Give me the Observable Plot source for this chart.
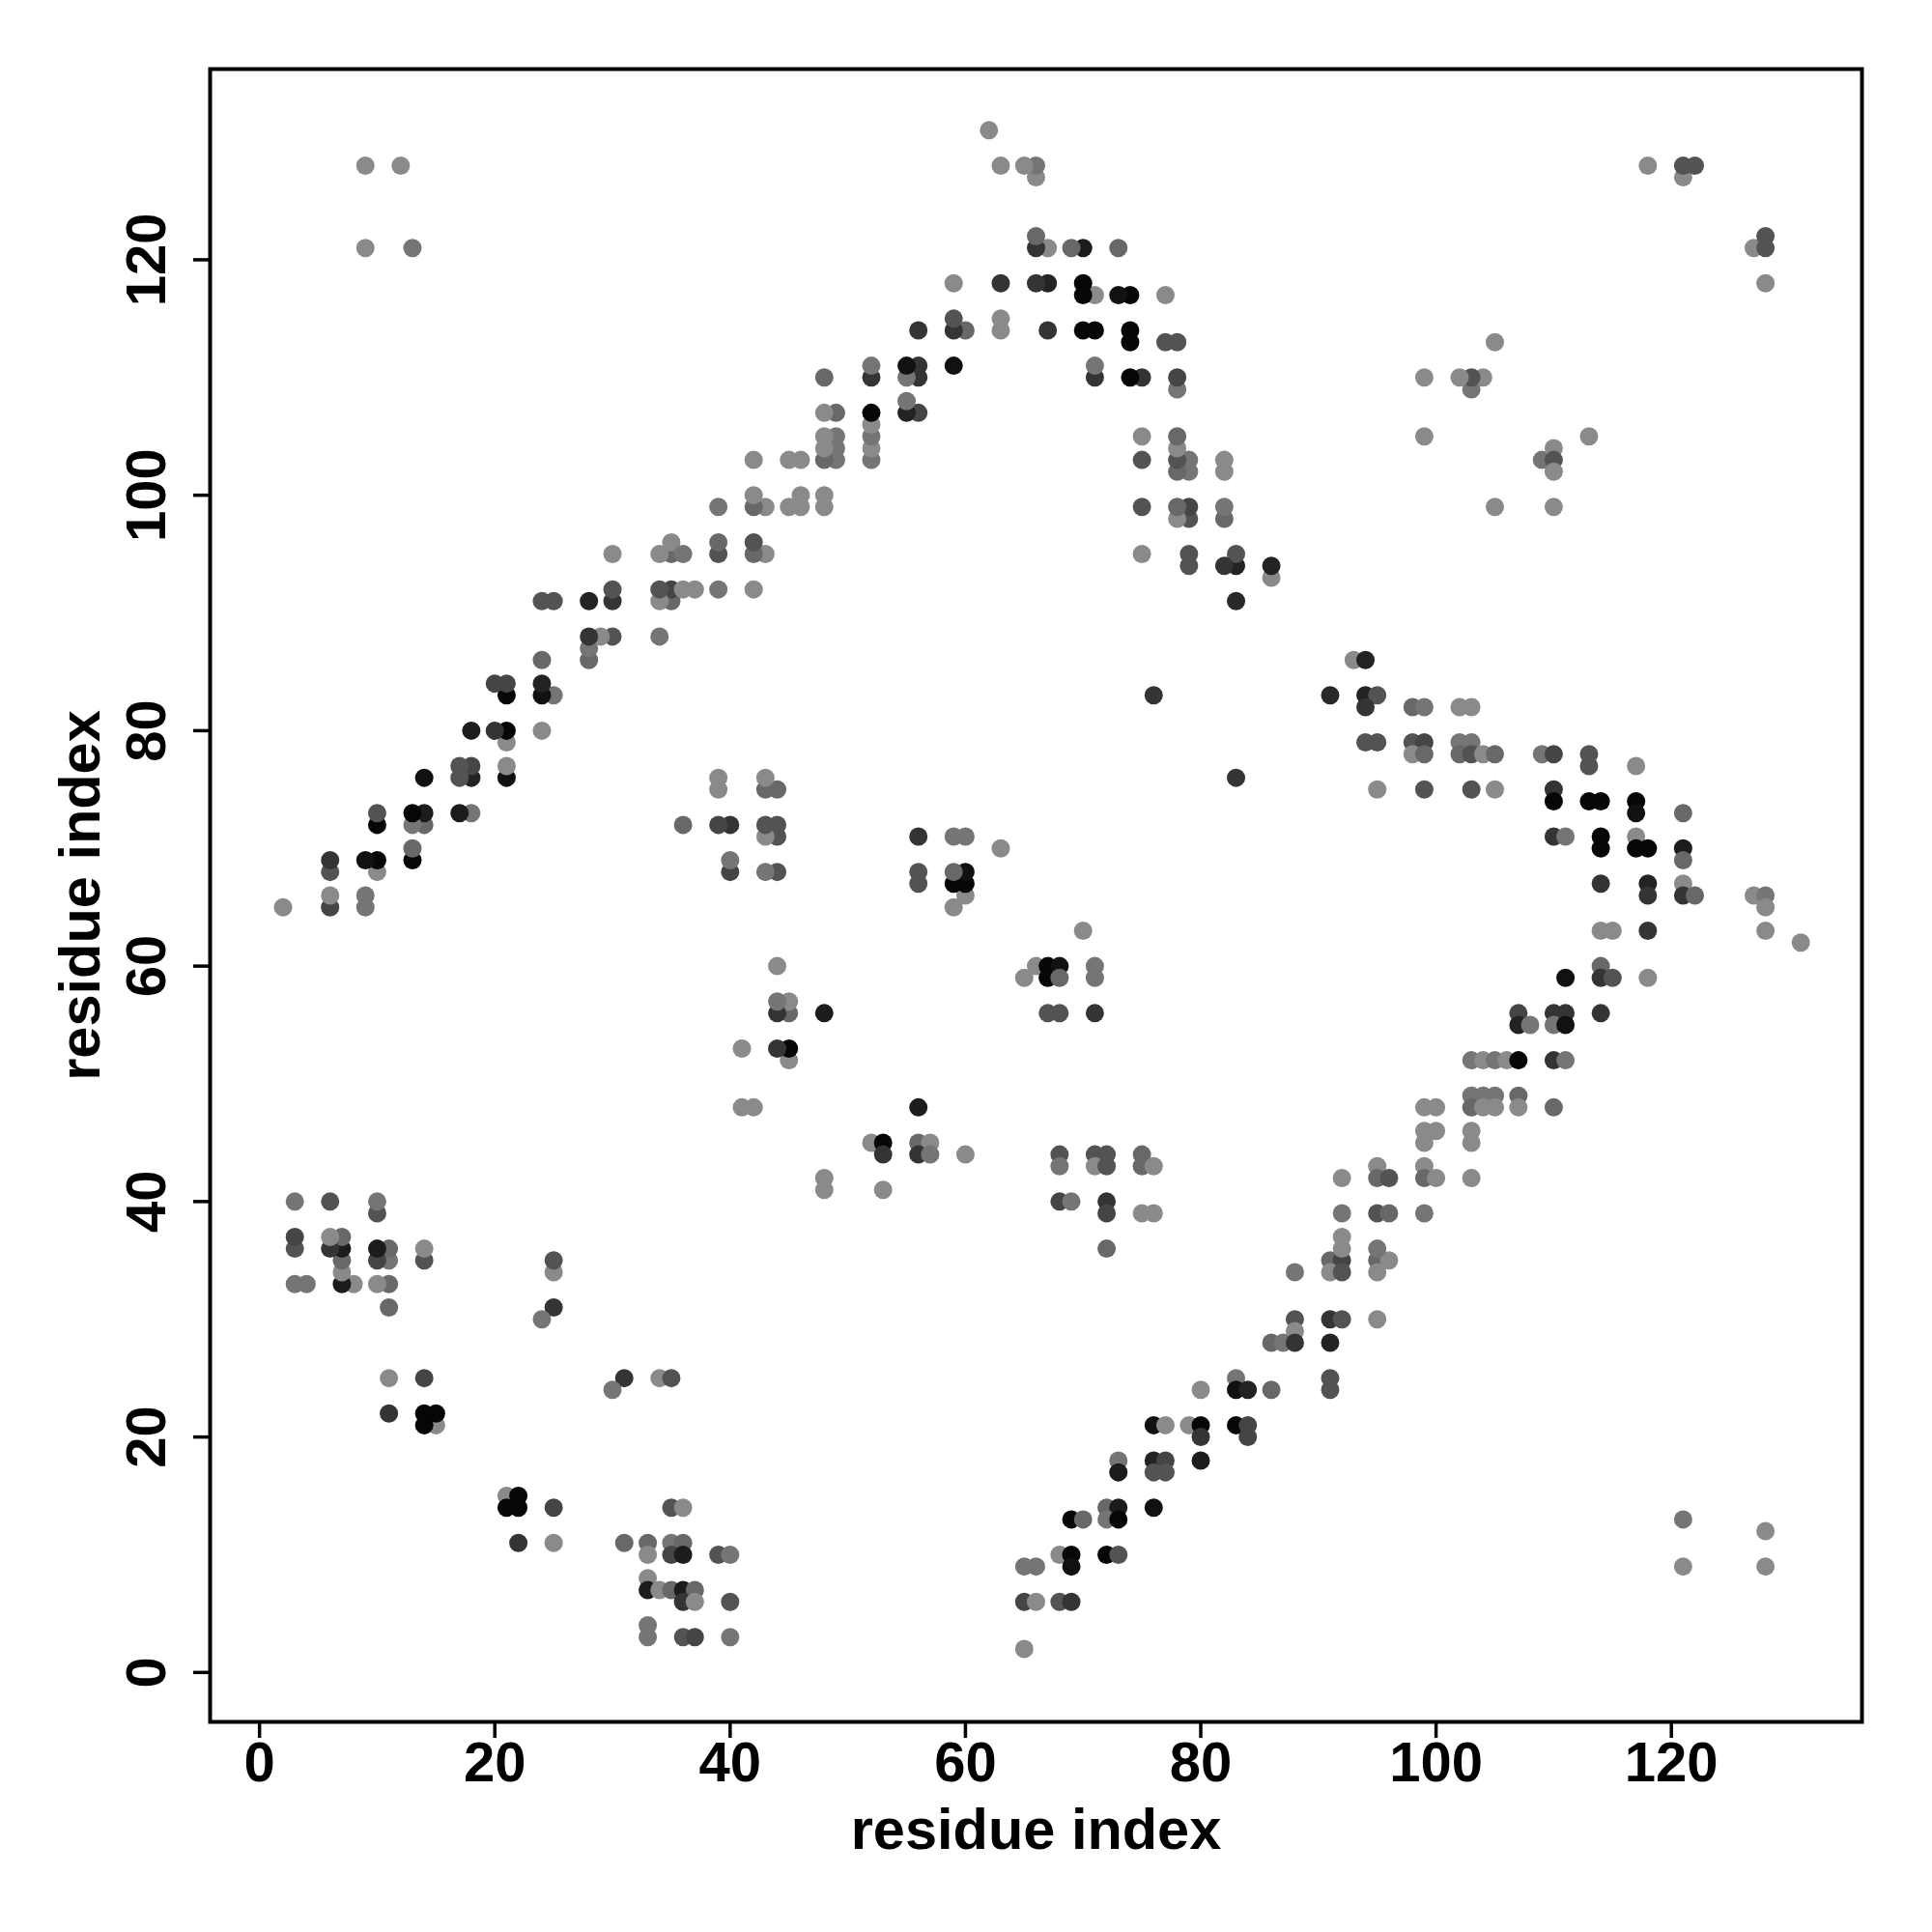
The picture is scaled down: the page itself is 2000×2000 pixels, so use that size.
<!DOCTYPE html>
<html><head><meta charset="utf-8">
<script src="https://cdn.jsdelivr.net/npm/d3@7"></script>
<script src="https://cdn.jsdelivr.net/npm/@observablehq/plot@0.6"></script>
<style>body{margin:0;background:#fff}</style>
</head><body><div id="chart"></div>
<script>
// Contact map (symmetric): one triangle of contacts (i > j) with predicted probability p
const resI = [
21,22,21,22,25, 22,25, 31,33,33,35,36,35,36,39,40, 35,36, 33,33,34,35,36,37,36,37,40, 33,33,36,37,40, 31,30,34,35,
48,48,53, 52,53,53,56,57,56,57,60, 56, 65,66,67,68,67,68,71,71, 67,68,71, 70,
68,68,71,72,71,72,75,75,76, 68,69,72,72,75,76, 72, 83,
65, 65,66,68,69, 65,66,68,69,69,72,73, 69,70,72,73,72,73,76,
73,73,76,77,76,77,80, 76,77,79,80,80,83,84,84, 80,83,83,84,86, 86,87,
88,88,88,88,91,92,95,91, 91,91, 91,92,91,92,95,96,95, 92,92,95, 92,95,96,99,
95,95,96,99,99,100,103,92, 99,100,99,103,103,
103,104,105,103,104,105,107,107,110,99,100,
103,104,105,106,107,110,111, 107,107,108,110,111,110,111,114,
114,114,115,111,118, 114,115,118,
114,118,118,121,121,122,127,128,128,128,131, 121,128,121,128,
110,111,114,114,117,117,118,121,121, 110,110,113,114,117,117,121,
95,99,103,105, 109,110,113,113,117, 94,95,98,99,98,99,
102,103,102,103,104,105, 98,99,102,103, 91,94,95,94, 93,94, 105,110,
109,110,110,110,113, 128,127,128,128
];
const resJ = [
15,15,14,14,14, 11,11, 11,11,10,11,11,10,10,10,10, 14,14, 8,7,7,7,7,7,6,6,6, 4,3,3,3,3, 25,24,25,25,
42,41,41, 45,45,44,45,45,44,44,44, 48, 59,60,60,60,59,59,60,59, 56,56,56, 63,
44,43,44,44,43,43,44,43,43, 40,40,40,39,39,39, 36, 76,
2, 6,6,6,6, 9,9,10,10,9,10,10, 13,13,14,14,13,13,14,
18,17,18,18,17,17,18, 21,21,21,21,20,21,21,20, 24,25,24,24,24, 28,28,
34,30,29,28,30,30,30,28, 25,24, 35,35,34,34,35,35,34, 37,36,36, 39,39,39,39,
43,42,42,43,42,42,42,42, 46,46,45,46,45,
49,49,49,48,48,48,49,48,48,48,48,
52,52,52,52,52,52,52, 56,55,55,56,56,55,55,56,
60,59,59,59,59, 63,63,63,
67,67,66,67,66,66,66,66,65,63,62, 13,12,9,9,
71,71,71,70,71,70,70,70,69, 75,74,74,74,74,73,73,
75,75,75,75, 78,78,78,77,77, 79,79,79,79,78,78,
79,79,78,78,78,78, 82,82,82,82, 83,83,83,82, 86,86, 99,99,
103,104,103,102,105, 118,121,121,122
];
const prob = [
0,.96,.96,.96,.5, .62,0, .25,.25,0,.15,.25,.5,.8,.4,.15, .4,0, 0,.8,0,.25,.8,.25,.62,0,.4, .15,.15,.4,.5,.15, .62,.15,0,.4,
0,0,0, 0,.96,.62,.25,0,.62,.15,0, .8, 0,0,.96,.88,.96,.25,.15,.15, .4,.4,.62, 0,
.4,.15,.4,.4,0,.4,.25,.25,0, .5,.15,.62,.5,0,0, .25, .62,
0, .5,0,.4,.62, .15,.15,0,.96,.88,.96,.4, .96,.25,.25,.8,.15,.96,.88,
.15,.8,.75,.5,.4,.4,.8, .88,0,0,.96,.62,.96,.5,.5, 0,.15,.88,.75,.25, .25,.15,
.15,.4,0,.62,.62,.4,0,.75, .4,.4, .25,.5,0,.4,.25,0,0, 0,0,.15, .15,.4,.25,.15,
0,.25,.4,0,.25,0,0,0, 0,0,0,0,0,
.15,.15,.15,.25,0,0,.25,0,.25,0,0,
.15,0,.15,0,.96,.62,.15, .5,.75,.15,.62,.62,.15,.88,.62,
.25,.62,.4,.88,0, 0,0,.62,
.62,.75,.62,0,.62,.25,0,.15,0,0,0, .15,0,0,0,
.62,.15,.96,.96,0,.96,.96,.8,.25, .62,.96,.96,.96,.96,.88,.25,
0,.4,.4,0, .15,.5,.4,.4,0, .4,.4,.4,.5,0,.25,
.15,.15,.25,.4,0,.25, .25,.15,0,0, .7,.75,.4,.62, 0,.75, 0,0,
.15,0,.4,0,0, 0,0,.4,.4
];
const xTicks = [0, 20, 40, 60, 80, 100, 120];
const yTicks = [0, 20, 40, 60, 80, 100, 120];
const xTitle = "residue index";
const yTitle = "residue index";

const contacts = resI.map((d, k) => ({i: d, j: resJ[k], p: prob[k]}));
const font = {fontSize: 58, fontWeight: "bold"};
const titleFont = {fontSize: 59.5, fontWeight: "bold"};

const chart = Plot.plot({
  width: 2000, height: 2000,
  marginLeft: 217, marginRight: 73, marginTop: 71, marginBottom: 218,
  style: {fontFamily: "'Liberation Sans', Arial, Helvetica, sans-serif", background: "#fff", color: "#000"},
  x: {domain: [-4.2, 136.2]},
  y: {domain: [-4.2, 136.2]},
  color: {type: "linear", domain: [0, 1], range: ["#8a8a8a", "#000000"]},
  marks: [
    Plot.dot(contacts, {x: "i", y: "j", fill: "p", r: 9.5}),
    Plot.dot(contacts, {x: "j", y: "i", fill: "p", r: 9.5}),
    Plot.frame({stroke: "#000", strokeWidth: 4}),
    Plot.axisX({ticks: xTicks, tickSize: 17, tickPadding: 3, strokeWidth: 3.5, label: null, ...font}),
    Plot.axisY({ticks: yTicks, tickSize: 17, tickPadding: 30, tickRotate: -90, strokeWidth: 3.5, label: null, ...font}),
    Plot.text([xTitle], {text: d => d, frameAnchor: "bottom", dy: 131, lineAnchor: "bottom", textAnchor: "middle", ...titleFont}),
    Plot.text([yTitle], {text: d => d, frameAnchor: "left", dx: -115, rotate: -90, lineAnchor: "bottom", textAnchor: "middle", ...titleFont})
  ]
});
document.getElementById("chart").appendChild(chart);
</script>
</body></html>
